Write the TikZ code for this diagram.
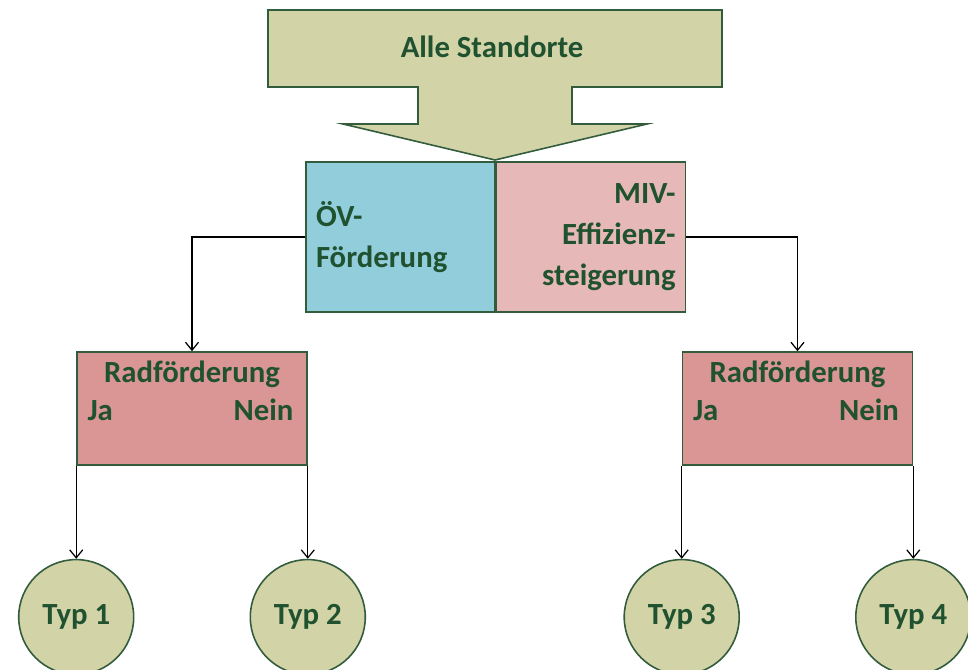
\documentclass[tikz,border=0pt]{standalone}
\usepackage{fontspec}
\setmainfont{Carlito}
\usepackage{xcolor}
\usepackage{tikz}
\usetikzlibrary{positioning,arrows.meta}
\definecolor{sandfill}{RGB}{211,211,168}
\definecolor{darkgreen}{RGB}{50,92,60}
\definecolor{txtgreen}{RGB}{32,82,48}
\definecolor{oevblue}{RGB}{146,205,220}
\definecolor{mivrose}{RGB}{230,184,183}
\definecolor{radrose}{RGB}{218,150,148}
\tikzset{
  lbl/.style={inner sep=0pt, font=\bfseries\fontsize{17.5}{23}\selectfont, text=txtgreen},
  mode/.style={draw=darkgreen, line width=0.9pt, minimum width=3.78cm, minimum height=3cm,
               inner xsep=2mm, text width=3.38cm, font=\bfseries\fontsize{17.5}{23.5}\selectfont,
               text=txtgreen},
  radbox/.style={draw=darkgreen, line width=0.9pt, fill=radrose, minimum width=4.6cm,
                 minimum height=2.26cm},
  typ/.style={circle, draw=darkgreen, line width=0.9pt, fill=sandfill, minimum size=2.3cm,
              inner sep=0pt, font=\bfseries\fontsize{17.5}{23}\selectfont, text=txtgreen},
  conn/.style={-{Straight Barb[length=1.6mm, width=2.6mm]}, line width=0.7pt, black}
}

\begin{document}
\begin{tikzpicture}[node distance=18.6mm]
    \clip (0,0) rectangle (19.36,-13.38);
    % down arrow with the starting set
    \draw[darkgreen, line width=0.9pt, fill=sandfill, line join=miter]
      (5.36,-0.2) -- (14.44,-0.2) -- (14.44,-1.74) -- (11.44,-1.74) -- (11.44,-2.48)
      -- (12.94,-2.48) -- (9.9,-3.2) -- (6.86,-2.48) -- (8.36,-2.48) -- (8.36,-1.74)
      -- (5.36,-1.74) -- cycle;
    \node[lbl] (alle) at (9.84,-0.94) {Alle Standorte};
    % the two measures
    \node[mode, fill=oevblue, align=left] (oev) at (8.01,-4.74) {ÖV-\\Förderung};
    \node[mode, fill=mivrose, align=right, right=0pt of oev] (miv) {MIV-\\Effizienz-\\steigerung};
    % bike promotion yes / no
    \node[radbox] (rad1) at (3.84,-8.17) {};
    \node[radbox] (rad2) at (15.95,-8.17) {};
    \foreach \r in {rad1,rad2} {
      \node[lbl] (\r head) at ([yshift=-4.6mm]\r.north) {Radförderung};
      \node[lbl, anchor=west] (\r ja) at ([xshift=2.2mm, yshift=-11.8mm]\r.north west) {Ja};
      \node[lbl, anchor=east] (\r nein) at ([xshift=-2.8mm, yshift=-11.8mm]\r.north east) {Nein};
    }
    \node[typ, below=of rad1.south west] (typ1) {Typ 1};
    \node[typ, below=of rad1.south east] (typ2) {Typ 2};
    \node[typ, below=of rad2.south west] (typ3) {Typ 3};
    \node[typ, below=of rad2.south east] (typ4) {Typ 4};
    \draw[conn] (oev.west) -| (rad1.north);
    \draw[conn] (miv.east) -| (rad2.north);
    \draw[conn] (rad1.south west) -- (typ1.north);
    \draw[conn] (rad1.south east) -- (typ2.north);
    \draw[conn] (rad2.south west) -- (typ3.north);
    \draw[conn] (rad2.south east) -- (typ4.north);
  \end{tikzpicture}
\end{document}
